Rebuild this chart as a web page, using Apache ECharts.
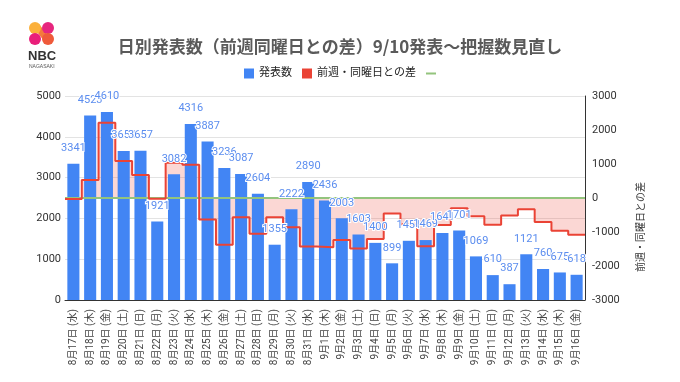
<!DOCTYPE html>
<html><head><meta charset="utf-8">
<script src="https://cdn.jsdelivr.net/npm/echarts/dist/echarts.min.js"></script>
<style>html,body{margin:0;padding:0;background:#fff}#c{width:680px;height:382px}</style>
</head><body><div id="c"></div>
<script>
const categories = ['8月17日 (水)','8月18日 (木)','8月19日 (金)','8月20日 (土)','8月21日 (日)','8月22日 (月)','8月23日 (火)','8月24日 (水)','8月25日 (木)','8月26日 (金)','8月27日 (土)','8月28日 (日)','8月29日 (月)','8月30日 (火)','8月31日 (水)','9月1日 (木)','9月2日 (金)','9月3日 (土)','9月4日 (日)','9月5日 (月)','9月6日 (火)','9月7日 (水)','9月8日 (木)','9月9日 (金)','9月10日 (土)','9月11日 (日)','9月12日 (月)','9月13日 (火)','9月14日 (水)','9月15日 (木)','9月16日 (金)'];
const counts = [3341,4523,4610,3653,3657,1921,3082,4316,3887,3236,3087,2604,1355,2222,2890,2436,2003,1603,1400,899,1451,1469,1641,1701,1069,610,387,1121,760,675,618];
const diffs = [-30,530,2215,1090,676,-20,1040,975,-636,-1374,-566,-1053,-566,-860,-1426,-1451,-1233,-1484,-1204,-456,-771,-1421,-795,-302,-534,-790,-512,-330,-709,-966,-1083];
const baseline = [0,0,0,0,0,0,0,0,0,0,0,0,0,0,0,0,0,0,0,0,0,0,0,0,0,0,0,0,0,0,0];
const leftAxis = {min:0, max:5000, interval:1000};
const rightAxis = {min:-3000, max:3000, interval:1000};
const titleText = '日別発表数（前週同曜日との差）9/10発表～把握数見直し';
const nameBars = '発表数', nameDiff = '前週・同曜日との差', nameBase = 'ゼロ';

function stepData(arr){ const out=[]; arr.forEach((v,i)=>{ out.push([i-0.5,v]); out.push([i+0.5,v]); }); return out; }
const FF = "Roboto, 'Noto Sans CJK JP', sans-serif";
const plain = v => String(v);
const chart = echarts.init(document.getElementById('c'), null, {renderer:'canvas'});
chart.setOption({
  animation:false,
  backgroundColor:'#fff',
  title:{text:titleText, left:'center', top:33, textStyle:{fontSize:17, fontWeight:'bold', color:'#5a5a5a', fontFamily:"'Noto Sans CJK JP', sans-serif"}},
  legend:{top:63, left:'center', itemWidth:10, itemHeight:10, itemGap:10,
    textStyle:{fontSize:11, color:'#222', fontFamily:FF},
    formatter: n => n===nameBase ? '' : n,
    data:[{name:nameBars, icon:'rect'},{name:nameDiff, icon:'rect'},{name:nameBase, icon:'path://M0,0H0.01V0.01H0Z M0,4H10V6H0Z M9.99,9.99H10V10H9.99Z'}]},
  graphic:[
    {type:'polygon', shape:{points:[[31,24],[39,24],[52,41],[44,41]]}, style:{fill:'#f47a3c'}},
    {type:'circle', shape:{cx:35, cy:28, r:6}, style:{fill:'#fbb03b'}},
    {type:'circle', shape:{cx:48, cy:28, r:6}, style:{fill:'#e6267e'}},
    {type:'circle', shape:{cx:35, cy:39, r:6}, style:{fill:'#e91e7a'}},
    {type:'circle', shape:{cx:48, cy:39, r:6}, style:{fill:'#ef5a3a'}},
    {type:'text', left:28, top:50, style:{text:'NBC', font:"bold 13px 'Liberation Sans', sans-serif", fill:'#333'}},
    {type:'text', left:29, top:64, style:{text:'NAGASAKI', font:"5px 'Liberation Sans', sans-serif", fill:'#555'}}
  ],
  grid:{left:65, right:95, top:96, bottom:82},
  xAxis:[
    {type:'category', data:categories, axisLine:{lineStyle:{color:'#333'}}, axisTick:{show:false},
     axisLabel:{rotate:90, interval:0, fontSize:10, color:'#444', margin:9, fontFamily:FF}},
    {type:'value', min:-0.5, max:categories.length-0.5, show:false}
  ],
  yAxis:[
    {type:'value', min:leftAxis.min, max:leftAxis.max, interval:leftAxis.interval, axisLine:{show:false}, axisTick:{show:false},
     splitLine:{lineStyle:{color:'#e3e3e3'}}, axisLabel:{fontSize:11, color:'#333', margin:4, fontFamily:FF, formatter:plain}},
    {type:'value', position:'right', min:rightAxis.min, max:rightAxis.max, interval:rightAxis.interval,
     axisLine:{show:true, lineStyle:{color:'#333'}}, axisTick:{show:false}, splitLine:{show:false},
     axisLabel:{fontSize:11, color:'#333', margin:7, fontFamily:FF, formatter:plain},
     name:nameDiff, nameLocation:'middle', nameRotate:90, nameGap:50,
     nameTextStyle:{fontSize:10, color:'#333', fontFamily:"'Noto Sans CJK JP', sans-serif", padding:[0,58,0,0]}}
  ],
  series:[
    {name:'_area', type:'line', xAxisIndex:1, yAxisIndex:1, data:stepData(diffs), symbol:'none', silent:true,
     lineStyle:{width:0, opacity:0}, areaStyle:{color:'rgba(234,67,53,0.3)', origin:'auto'}, z:1},
    {name:nameBars, type:'bar', xAxisIndex:0, yAxisIndex:0, data:counts, barWidth:'72%', barGap:'-100%',
     itemStyle:{color:'#4285f4'}, z:2},
    {name:nameBase, type:'line', xAxisIndex:1, yAxisIndex:1, data:stepData(baseline), symbol:'none',
     color:'#93c47d', lineStyle:{color:'#93c47d', width:2}, z:3},
    {name:nameDiff, type:'line', xAxisIndex:1, yAxisIndex:1, data:stepData(diffs), symbol:'none',
     color:'#ea4335', lineStyle:{color:'#ea4335', width:2}, z:4},
    {name:'_lbl', type:'bar', xAxisIndex:0, yAxisIndex:0, data:counts, barWidth:'72%', barGap:'-100%', silent:true,
     itemStyle:{color:'rgba(0,0,0,0)'}, z:5,
     label:{show:true, position:'top', distance:10, fontSize:11, color:'#5b8def', fontFamily:FF,
       textBorderColor:'#fff', textBorderWidth:2}}
  ]
});
</script></body></html>
